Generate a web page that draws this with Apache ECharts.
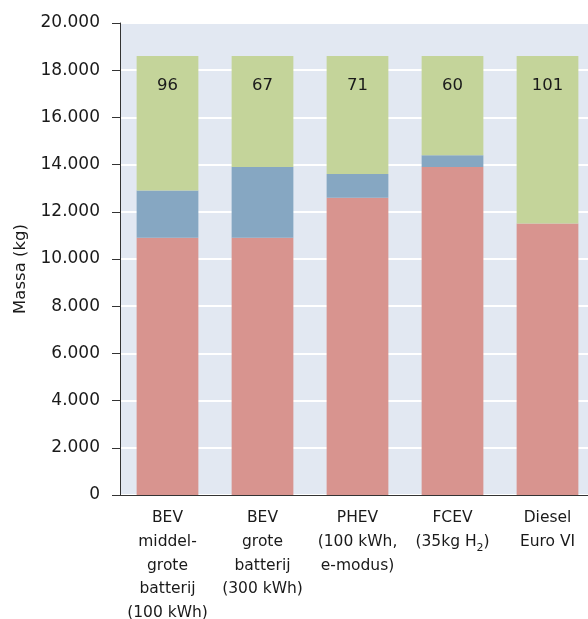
<!DOCTYPE html>
<html lang="nl">
<head>
    <meta charset="UTF-8">
    <title>Massa</title>
    <style>
        html, body { margin: 0; padding: 0; background: #fff; }
    </style>
</head>
<body>
<div id="main" style="width: 588px;height:619px;"></div>
<script src="https://cdn.jsdelivr.net/npm/echarts@6/dist/echarts.min.js"></script>
<script>
    var categories = ['BEV\nmiddel-\ngrote\nbatterij\n(100 kWh)', 'BEV\ngrote\nbatterij\n(300 kWh)', 'PHEV\n(100 kWh,\ne-modus)', 'FCEV\n(35kg H{sub|2})', 'Diesel\nEuro VI'];
    var roodData = [10900, 10900, 12600, 13900, 11500];
    var blauwData = [2000, 3000, 1000, 500, 0];
    var groenData = [5700, 4700, 5000, 4200, 7100];
    var labelData = ['96', '67', '71', '60', '101'];

    var fontFam = '"DejaVu Sans", sans-serif';

    // duizendtallen met een punt
    function fmt(v) {
        return String(v).replace(/\B(?=(\d{3})+(?!\d))/g, '.');
    }

    var myChart = echarts.init(document.getElementById('main'));

    var option = {
        animation: false,
        textStyle: { fontFamily: fontFam },
        grid: {
            left: 120,
            top: 23,
            width: 475,
            height: 472,
            outerBoundsMode: 'none',
            containLabel: false,
            show: true,
            backgroundColor: '#e2e8f2',
            borderWidth: 0
        },
        xAxis: {
            type: 'category',
            data: categories,
            axisLine: { lineStyle: { color: '#333', width: 1 } },
            axisTick: { show: false },
            axisLabel: {
                color: '#1a1a1a',
                fontSize: 15.5,
                lineHeight: 23.8,
                margin: 11,
                interval: 0,
                rich: {
                    sub: { fontSize: 11, verticalAlign: 'bottom', lineHeight: 16, color: '#1a1a1a' }
                }
            }
        },
        yAxis: {
            type: 'value',
            min: 0,
            max: 20000,
            interval: 2000,
            name: 'Massa (kg)',
            nameLocation: 'middle',
            nameGap: 89,
            nameTextStyle: { color: '#1a1a1a', fontSize: 16.5, padding: [0, 20, 0, 0] },
            axisLine: { show: true, lineStyle: { color: '#333', width: 1 } },
            axisTick: { show: true, length: 8, lineStyle: { color: '#333' } },
            axisLabel: {
                color: '#1a1a1a',
                fontSize: 17,
                margin: 20,
                formatter: fmt
            },
            splitLine: { lineStyle: { color: '#ffffff', width: 2 } }
        },
        series: [
            {
                name: 'rood',
                type: 'bar',
                stack: 'totaal',
                barWidth: '65%',
                data: roodData,
                itemStyle: { color: '#d8948f' }
            },
            {
                name: 'blauw',
                type: 'bar',
                stack: 'totaal',
                data: blauwData,
                itemStyle: { color: '#86a7c2' }
            },
            {
                name: 'groen',
                type: 'bar',
                stack: 'totaal',
                data: groenData,
                itemStyle: { color: '#c4d49a' },
                label: {
                    show: true,
                    position: 'insideTop',
                    distance: 21,
                    color: '#1a1a1a',
                    fontSize: 16.5,
                    formatter: function (p) { return labelData[p.dataIndex]; }
                }
            }
        ]
    };

    myChart.setOption(option);
</script>
</body>
</html>
